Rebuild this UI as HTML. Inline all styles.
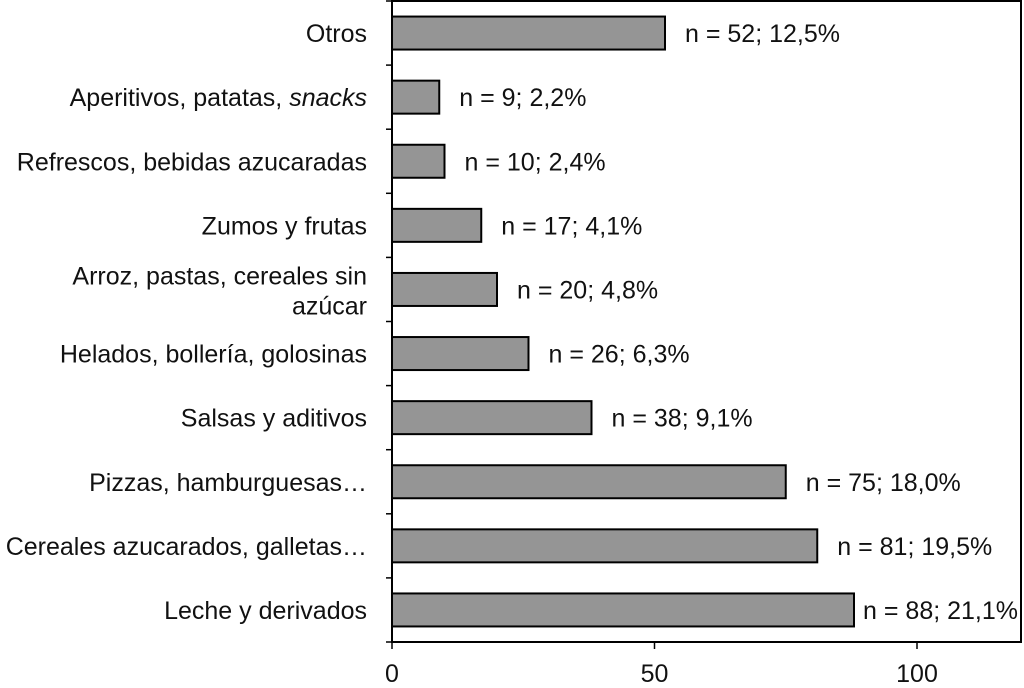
<!DOCTYPE html>
<html><head><meta charset="utf-8"><style>
body{margin:0;background:#fff;}
svg{display:block;font-family:"Liberation Sans",Arial,sans-serif;}
</style></head><body>
<svg id="chart" width="1024" height="688"></svg>
<script>
const categories=["Otros","Aperitivos, patatas, snacks","Refrescos, bebidas azucaradas","Zumos y frutas","Arroz, pastas, cereales sin azúcar","Helados, bollería, golosinas","Salsas y aditivos","Pizzas, hamburguesas…","Cereales azucarados, galletas…","Leche y derivados"];
const counts=[52,9,10,17,20,26,38,75,81,88];
const percents=["12,5","2,2","2,4","4,1","4,8","6,3","9,1","18,0","19,5","21,1"];
const xTicks=[0,50,100];
const NS="http://www.w3.org/2000/svg";
const svg=document.getElementById('chart');
const L=392,R=1021,T=1,B=642,xMax=(R-L)/5.25;
const FS=25;
const x=v=>L+v*(R-L)/xMax;
const slot=(B-T)/categories.length;
const yC=i=>T+slot*(i+0.5);
function el(t,a){const e=document.createElementNS(NS,t);for(const k in a)e.setAttribute(k,a[k]);svg.appendChild(e);return e;}
categories.forEach((c,i)=>{
  const r=el('rect',{x:x(0),y:yC(i)-16.5,width:x(counts[i])-x(0),height:33,fill:'#959595',stroke:'#000','stroke-width':2});
  
  
  const end=x(counts[i]);
  const lt=el('text',{y:yC(i)+9,'font-size':FS,fill:'#111'});
  lt.textContent='n = '+counts[i]+'; '+percents[i]+'%';
  
  
  let lx=end+20;
  if(lx+158>R){lt.setAttribute('text-anchor','end');lx=R-3;}
  lt.setAttribute('x',lx);
  const t=el('text',{x:367,'text-anchor':'end','font-size':FS,fill:'#111'});
  
  
  if(c.indexOf('snacks')>=0){
    t.setAttribute('y',yC(i)+9);
    const a=document.createElementNS(NS,'tspan');a.textContent='Aperitivos, patatas, ';t.appendChild(a);
    const b=document.createElementNS(NS,'tspan');b.setAttribute('font-style','italic');b.textContent='snacks';t.appendChild(b);
  } else if(c.indexOf('sin azúcar')>=0){
    t.setAttribute('y',yC(i)-5);
    const a=document.createElementNS(NS,'tspan');a.setAttribute('x',367);a.textContent='Arroz, pastas, cereales sin';t.appendChild(a);
    const b=document.createElementNS(NS,'tspan');b.setAttribute('x',367);b.setAttribute('dy',30);b.textContent='azúcar';t.appendChild(b);
  } else {t.setAttribute('y',yC(i)+9);t.textContent=c;}
});
for(let i=0;i<=categories.length;i++){
  const ty=T+slot*i;
  const tk=el('line',{x1:386,x2:L,y1:ty,y2:ty,stroke:'#000','stroke-width':1.5});
  
  
}
const box=el('rect',{x:L,y:T,width:R-L,height:B-T,fill:'none',stroke:'#000','stroke-width':2});


xTicks.forEach(v=>{
  const tk=el('line',{x1:x(v),x2:x(v),y1:B,y2:B+7,stroke:'#000','stroke-width':1.5});
  
  
  const t=el('text',{x:x(v),y:682,'text-anchor':'middle','font-size':FS,fill:'#111'});
  t.textContent=v;
  
  
});
</script>
</body></html>
